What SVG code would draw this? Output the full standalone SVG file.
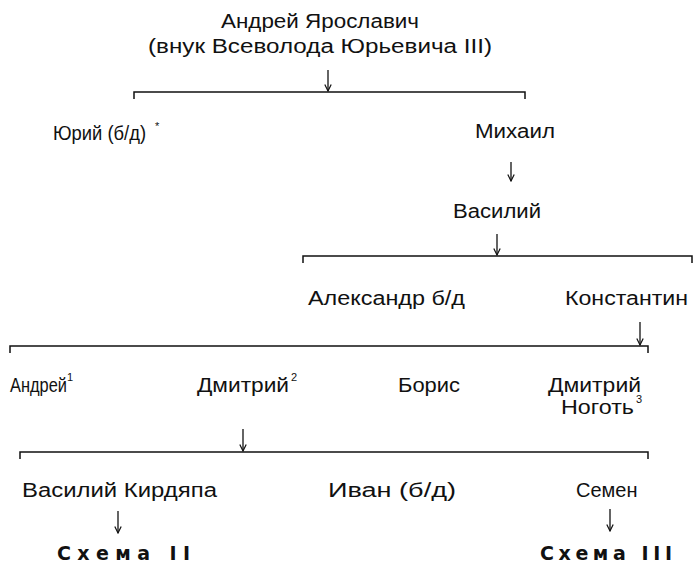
<svg xmlns="http://www.w3.org/2000/svg" width="700" height="569" viewBox="0 0 700 569">
<defs><marker id="a" markerWidth="8" markerHeight="8" refX="7.5" refY="4" orient="auto" markerUnits="userSpaceOnUse" viewBox="0 0 8 8"><path d="M1,0.8 L7.5,4 L1,7.2" fill="none" stroke="#111" stroke-width="1.2"/></marker></defs>
<style>
text{font-family:"Liberation Sans Narrow","Liberation Sans",sans-serif;font-size:20px;fill:#111}
.s{font-family:"DejaVu Sans","Liberation Sans",sans-serif;font-weight:bold;font-size:19px}
.sup{font-size:11px}
.b{fill:none;stroke:#111;stroke-width:1.5}
.ar{stroke:#111;stroke-width:1.3;marker-end:url(#a)}
</style>
<g id="connectors">
<path class="b" d="M134,99V92H525V99"/>
<path class="b" d="M303,263V256H692V263"/>
<path class="b" d="M10,353V346H648V353"/>
<path class="b" d="M20,459V452H648V459"/>
<line class="ar" x1="328" y1="70" x2="328" y2="91"/>
<line class="ar" x1="511" y1="162" x2="511" y2="181"/>
<line class="ar" x1="497" y1="234" x2="497" y2="255"/>
<line class="ar" x1="640" y1="322" x2="640" y2="345"/>
<line class="ar" x1="243" y1="429" x2="243" y2="451"/>
<line class="ar" x1="118" y1="511" x2="118" y2="533"/>
<line class="ar" x1="610" y1="509" x2="610" y2="531"/>
</g>
<g id="root"><text x="221" y="28" textLength="198" lengthAdjust="spacingAndGlyphs">Андрей Ярославич</text><text x="148" y="53" textLength="344" lengthAdjust="spacingAndGlyphs">(внук Всеволода Юрьевича III)</text></g>
<g id="yuri"><text transform="translate(53 140) scale(0.92 1)">Юрий (б/д)</text><text x="155" y="130" class="sup">*</text></g>
<g id="mikhail"><text x="475" y="138" textLength="80" lengthAdjust="spacingAndGlyphs">Михаил</text></g>
<g id="vasily"><text x="453" y="218" textLength="88" lengthAdjust="spacingAndGlyphs">Василий</text></g>
<g id="alexandr"><text x="308" y="305" textLength="157" lengthAdjust="spacingAndGlyphs">Александр б/д</text></g>
<g id="konstantin"><text x="565" y="305" textLength="123" lengthAdjust="spacingAndGlyphs">Константин</text></g>
<g id="andrei"><text transform="translate(10 392) scale(0.82 1)">Андрей</text><text x="67" y="381" class="sup">1</text></g>
<g id="dmitry2"><text x="197" y="392" textLength="92" lengthAdjust="spacingAndGlyphs">Дмитрий</text><text x="291" y="381" class="sup">2</text></g>
<g id="boris"><text x="398" y="392" textLength="62" lengthAdjust="spacingAndGlyphs">Борис</text></g>
<g id="dmitry-nogot"><text x="548" y="392" textLength="93" lengthAdjust="spacingAndGlyphs">Дмитрий</text><text x="561" y="414" textLength="73" lengthAdjust="spacingAndGlyphs">Ноготь</text><text x="636" y="403" class="sup">3</text></g>
<g id="vasily-k"><text x="22" y="497" textLength="195" lengthAdjust="spacingAndGlyphs">Василий Кирдяпа</text></g>
<g id="ivan"><text x="328" y="497" textLength="128" lengthAdjust="spacingAndGlyphs">Иван (б/д)</text></g>
<g id="semen"><text transform="translate(576 497) scale(1.0 1)">Семен</text></g>
<g id="schema2"><text class="s" x="57" y="560" textLength="133" lengthAdjust="spacing">Схема II</text></g>
<g id="schema3"><text class="s" x="540" y="560" textLength="132" lengthAdjust="spacing">Схема III</text></g>
</svg>
